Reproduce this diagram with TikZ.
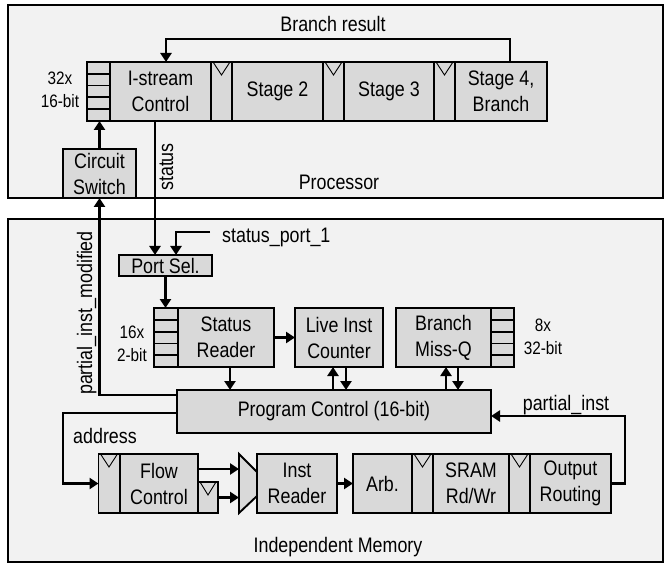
\documentclass[tikz,border=0pt]{standalone}
\usepackage{fontspec}
\setmainfont{Liberation Sans}[FakeStretch=0.85]
\usetikzlibrary{arrows.meta,calc}

\definecolor{panelgray}{HTML}{F2F2F2}
\definecolor{boxgray}{HTML}{D9D9D9}

\tikzset{
  panel/.style={draw=black, line width=1.8pt, fill=panelgray},
  blk/.style={draw=black, line width=1.9pt, fill=boxgray, align=center,
    inner sep=0pt, outer sep=0pt, font=\fontsize{21}{26}\selectfont},
  latch/.style={blk, minimum width=21pt, minimum height=59pt},
  stage/.style={blk, minimum height=59pt},
  lbl/.style={font=\fontsize{21}{26}\selectfont, inner sep=0pt},
  small/.style={font=\fontsize{18}{23}\selectfont, inner sep=0pt, align=center},
  arr/.style={line width=2.3pt, -{Triangle[length=9pt,width=11pt]}},
}

% clock mark on a pipeline latch
\newcommand{\clk}[1]{\draw[line width=0.9pt] ([xshift=2pt]#1.north west) -- ([yshift=-13pt]#1.north) -- ([xshift=-2pt]#1.north east);}
% rows of a small queue / register file
\newcommand{\qlines}[1]{\foreach \k in {1,2,3,4}{\draw[line width=1.8pt] ($(#1.north west)!\k/5!(#1.south west)$) -- ($(#1.north east)!\k/5!(#1.south east)$);}}

\begin{document}
\begin{tikzpicture}[x=1pt, y=-1pt]
\useasboundingbox (0,0) rectangle (664,564);
\fill[white] (0,0) rectangle (664,564);

% the two panels
\draw[panel] (8,5) rectangle (663,198);
\draw[panel] (8,219) rectangle (663,562);

% processor pipeline
\node[stage, minimum width=23pt] (rf) at (98.5,91.5) {};
\node[stage, minimum width=101pt] (istream) at (160.5,91.5) {I-stream\\Control};
\node[latch] (lat1) at (221.5,91.5) {};
\node[stage, minimum width=91pt] (st2) at (277.5,91.5) {Stage 2};
\node[latch] (lat2) at (333.5,91.5) {};
\node[stage, minimum width=90pt] (st3) at (389,91.5) {Stage 3};
\node[latch] (lat3) at (444.5,91.5) {};
\node[stage, minimum width=92pt] (st4) at (501,91.5) {Stage 4,\\Branch};
\clk{lat1} \clk{lat2} \clk{lat3}
\qlines{rf}
\node[small] (rfsize) at (60,90) {32x\\16-bit};

\draw[arr] ([xshift=9pt]st4.north) -- ++(0,-23) -| ([xshift=5.5pt]istream.north);
\node[lbl, anchor=base] (brres) at (333,32) {Branch result};

\node[blk, minimum width=73pt, minimum height=49pt] (cs) at (99.5,173.5) {Circuit\\Switch};
\draw[arr] (cs.north) -- (cs.north |- rf.south);
\node[lbl, anchor=base] (proc) at (339,190) {Processor};

% memory side
\node[blk, minimum width=93pt, minimum height=21pt] (portsel) at (165.5,265.5) {Port Sel.};
\draw[arr] ([xshift=-5.5pt]istream.south) -- ([xshift=-5.5pt]istream.south |- portsel.north);
\node[lbl, rotate=90, anchor=base] (stattxt) at (173,167) {status};
\coordinate (spin) at (210,232);
\node[lbl, anchor=base west] (sptxt) at (222,243) {status\_port\_1};
\draw[arr] (spin) -| ([xshift=10.5pt]portsel.north);

\node[stage, minimum width=24pt] (srq) at (166,337.5) {};
\node[stage, minimum width=96pt] (sr) at (226,337.5) {Status\\Reader};
\qlines{srq}
\node[small] (srsize) at (132,343.5) {16x\\2-bit};
\draw[arr] (portsel.south) -- (portsel.south |- srq.north);

\node[stage, minimum width=88pt] (lic) at (339,337.5) {Live Inst\\Counter};
\node[stage, minimum width=95pt] (bmq) at (443.5,337.5) {Branch\\Miss-Q};
\node[stage, minimum width=23pt] (bq) at (502.5,337.5) {};
\qlines{bq}
\node[small] (bqsize) at (543,337) {8x\\32-bit};
\draw[arr] (sr.east) -- (lic.west);

\node[blk, minimum width=314pt, minimum height=43pt] (pc) at (334,411.5) {Program Control (16-bit)};
\draw[arr] ([xshift=4pt]sr.south) -- ([xshift=4pt]sr.south |- pc.north);
\draw[arr] ([xshift=-6pt]lic.south |- pc.north) -- ([xshift=-6pt]lic.south);
\draw[arr] ([xshift=7pt]lic.south) -- ([xshift=7pt]lic.south |- pc.north);
\draw[arr] ([xshift=2.5pt]bmq.south |- pc.north) -- ([xshift=2.5pt]bmq.south);
\draw[arr] ([xshift=14.5pt]bmq.south) -- ([xshift=14.5pt]bmq.south |- pc.north);

\draw[arr] ([yshift=16.5pt]pc.west) -| (cs.south);
\node[lbl, rotate=90, anchor=base] (pimtxt) at (92,313) {partial\_inst\_modified};

% bottom row
\node[latch] (la) at (109,483.5) {};
\node[stage, minimum width=78pt] (fc) at (159,483.5) {Flow\\Control};
\node[blk, minimum width=20pt, minimum height=31pt] (sl) at (208,497.5) {};
\clk{la} \clk{sl}
\coordinate (addrturn) at (63,413);
\draw[arr] ([yshift=-1.5pt]pc.west) -- (addrturn) |- (la.west);
\node[lbl, anchor=base] (addrtxt) at (105,443) {address};

\draw[line width=1.9pt, fill=boxgray] (239,454) -- (257,472) -- (257,496) -- (239,513) -- cycle;
\coordinate (mux1) at (239,469);
\coordinate (mux2) at (239,497.5);
\draw[arr] ([yshift=14.5pt]fc.east) -- (mux1);
\draw[arr] (sl.east) -- (mux2);

\node[stage, minimum width=80pt] (ir) at (297,483.5) {Inst\\Reader};
\node[stage, minimum width=59pt] (arb) at (382.5,483.5) {Arb.};
\node[latch] (lat4) at (422.5,483.5) {};
\node[stage, minimum width=76pt] (sram) at (471,483.5) {SRAM\\Rd/Wr};
\node[latch] (lat5) at (519.5,483.5) {};
\node[stage, minimum width=81pt] (outr) at (570.5,483.5) {Output\\Routing};
\clk{lat4} \clk{lat5}
\draw[arr] (ir.east) -- (arb.west);
\draw[arr] (outr.east) -- ++(14,0) |- ([yshift=-4.5pt]pc.east);
\node[lbl, anchor=base] (pitxt) at (566,410) {partial\_inst};

\node[lbl, anchor=base] (memtxt) at (338,552) {Independent Memory};
\end{tikzpicture}
\end{document}
